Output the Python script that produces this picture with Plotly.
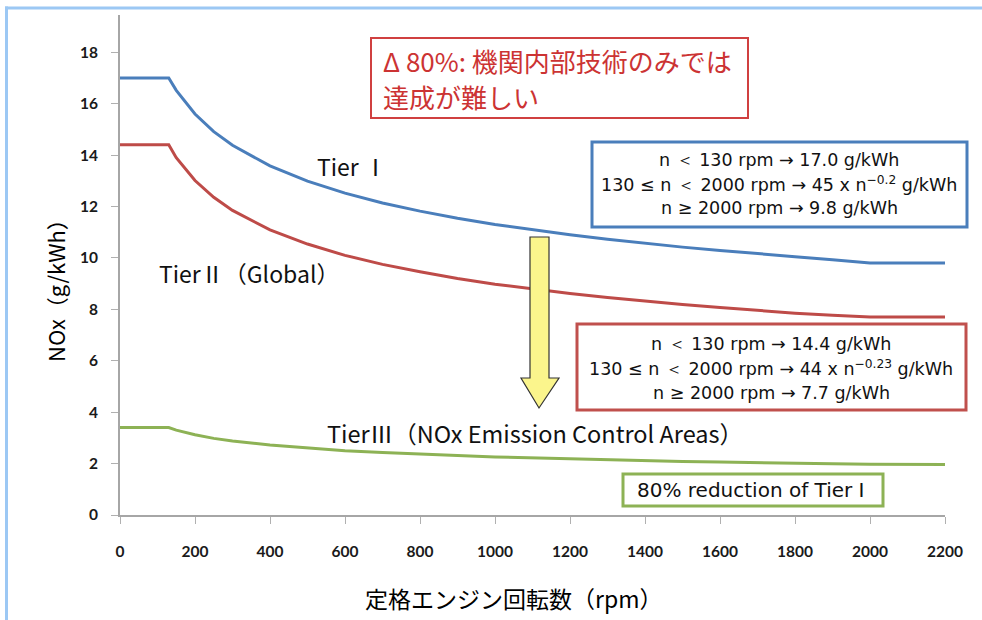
import plotly.graph_objects as go

rpm = [0, 130, 150, 200, 250, 300, 400, 500, 600, 700, 800, 900, 1000, 1100,
       1200, 1300, 1400, 1500, 1600, 1700, 1800, 1900, 2000, 2200]
tier1 = [17.0, 17.0, 16.52, 15.60, 14.91, 14.38, 13.58, 12.99, 12.52, 12.14, 11.82,
         11.54, 11.30, 11.09, 10.90, 10.73, 10.57, 10.42, 10.29, 10.16, 10.05, 9.93,
         9.80, 9.80]
tier2 = [14.4, 14.4, 13.90, 13.01, 12.36, 11.85, 11.09, 10.54, 10.10, 9.75, 9.46,
         9.20, 8.98, 8.79, 8.62, 8.46, 8.32, 8.19, 8.07, 7.95, 7.85, 7.77, 7.70, 7.70]
tier3 = [3.40, 3.40, 3.30, 3.12, 2.98, 2.88, 2.72, 2.60, 2.50, 2.43, 2.36, 2.31,
         2.26, 2.22, 2.18, 2.15, 2.11, 2.08, 2.06, 2.03, 2.01, 1.99, 1.97, 1.96]

x_ticks = list(range(0, 2201, 200))
y_ticks = list(range(0, 19, 2))

W, H = 982, 620
L, R, T, B = 120, 37, 15, 105
PW, PH = W - L - R, H - T - B


def px(x):
    return (x - L) / PW


def py(y):
    return (H - B - y) / PH


JP = "Noto Sans CJK JP"
LAT = "DejaVu Sans"

fig = go.Figure()
for ys, col in [(tier1, "#4a7ebb"), (tier2, "#be4b48"), (tier3, "#8db255")]:
    fig.add_trace(go.Scatter(x=rpm, y=ys, mode="lines",
                             line=dict(color=col, width=3), showlegend=False,
                             hoverinfo="skip"))

shapes = []
# image frame (light blue)
shapes.append(dict(type="line", xref="paper", yref="paper", x0=px(6.5), x1=px(6.5),
                   y0=py(6.5), y1=py(625), line=dict(color="#9cc8f4", width=3)))
shapes.append(dict(type="line", xref="paper", yref="paper", x0=px(5), x1=px(982),
                   y0=py(8), y1=py(8), line=dict(color="#9cc8f4", width=3)))


def rect(x0, y0, x1, y1, col, w):
    shapes.append(dict(type="rect", xref="paper", yref="paper", x0=px(x0), x1=px(x1),
                       y0=py(y1), y1=py(y0), line=dict(color=col, width=w),
                       fillcolor="white", layer="above"))


rect(371, 38, 748, 118, "#d04040", 2)
rect(592, 142, 967, 227, "#4a7ebb", 3)
rect(577, 324, 966, 410, "#c0504d", 3)
rect(623, 474, 883, 506, "#8db255", 3)

# yellow arrow
pts = [(530, 237), (549, 237), (549, 378), (559, 378), (539, 408), (521, 378), (530, 378)]
path = "M " + " L ".join(f"{px(a)},{py(b)}" for a, b in pts) + " Z"
shapes.append(dict(type="path", xref="paper", yref="paper", path=path,
                   fillcolor="#fbf58c", line=dict(color="#333333", width=1.2),
                   layer="above"))

ann = []


def text(x, y, s, size, color="#111111", anchor="center", font=JP):
    ann.append(dict(xref="paper", yref="paper", x=px(x), y=py(y), text=s,
                    showarrow=False, xanchor=anchor, yanchor="middle",
                    font=dict(family=font, size=size, color=color)))


text(352, 166, "Tier Ⅰ", 23)
text(249, 273, "TierⅡ（Global）", 23)
text(535, 433, "TierⅢ（NOx Emission Control Areas）", 23.5)

text(381, 61, "Δ 80%: 機関内部技術のみでは", 26, "#cc3333", "left")
text(381, 96, "達成が難しい", 26, "#cc3333", "left")

text(779, 160, "n ＜ 130 rpm → 17.0 g/kWh", 17.5, font=LAT)
text(779, 184, "130 ≤ n ＜ 2000 rpm → 45 x n<sup>−0.2</sup> g/kWh", 17.5, font=LAT)
text(779, 208, "n ≥ 2000 rpm → 9.8 g/kWh", 17.5, font=LAT)

text(771, 344, "n ＜ 130 rpm → 14.4 g/kWh", 17.5, font=LAT)
text(771, 368, "130 ≤ n ＜ 2000 rpm → 44 x n<sup>−0.23</sup> g/kWh", 17.5, font=LAT)
text(771, 393, "n ≥ 2000 rpm → 7.7 g/kWh", 17.5, font=LAT)

text(751, 490, "80% reduction of Tier Ⅰ", 20, font=LAT)

text(513, 598, "定格エンジン回転数（rpm）", 23, "#000000")
ann.append(dict(xref="paper", yref="paper", x=px(55), y=py(285),
                text="NOx（g/kWh）", showarrow=False, textangle=-90,
                xanchor="center", yanchor="middle",
                font=dict(family=JP, size=22, color="#000000")))

fig.update_layout(
    width=W, height=H, margin=dict(l=L, r=R, t=T, b=B),
    paper_bgcolor="white", plot_bgcolor="white",
    shapes=shapes, annotations=ann,
    xaxis=dict(range=[0, 2200], tickvals=x_ticks, showgrid=False, zeroline=False,
               showline=True, linecolor="#a6a6a6", linewidth=2,
               ticks="outside", ticklen=7, tickcolor="#b0b0b0", tickwidth=1,
               ticklabelstandoff=14,
               tickfont=dict(family="Lato", size=15.5, color="#1a1a1a", weight="bold")),
    yaxis=dict(range=[0, 19.45], tickvals=y_ticks, showgrid=False, zeroline=False,
               showline=True, linecolor="#a6a6a6", linewidth=2,
               ticks="outside", ticklen=7, tickcolor="#b0b0b0", tickwidth=1,
               ticklabelstandoff=10,
               tickfont=dict(family="Lato", size=15.5, color="#1a1a1a", weight="bold")),
)

fig.write_html("out.html", config={"displayModeBar": False},
               post_script="document.body.style.margin='0';document.body.style.overflow='hidden';")
